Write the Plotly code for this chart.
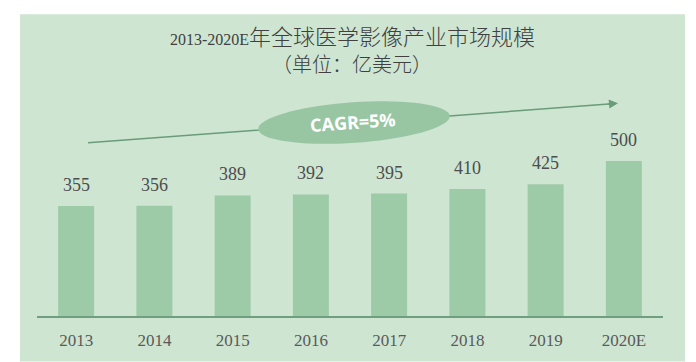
import math
import plotly.graph_objects as go

# ---- data ----
years = ["2013", "2014", "2015", "2016", "2017", "2018", "2019", "2020E"]
market_size = [355, 356, 389, 392, 395, 410, 425, 500]
title_line1 = '<span style="font-size:16px">2013-2020E</span>年全球医学影像产业市场规模'
title_line2 = "（单位：亿美元）"
cagr_label = "CAGR=5%"

W, H = 696, 362
ML, MR, MT, MB = 37, 33, 130, 44
PW, PH = W - ML - MR, H - MT - MB


def px(x, y):
    """pixel -> paper coordinates"""
    return (x - ML) / PW, (H - MB - y) / PH


PANEL = "#cee5d2"
BAR = "#9dcaa7"
ELLIPSE = "#99c6a2"
AXIS = "#6f9f7e"
ARROW = "#6a9c79"
SERIF = "Liberation Serif, Times New Roman, Noto Sans CJK SC, serif"

fig = go.Figure()
fig.add_trace(go.Bar(x=years, y=market_size, marker=dict(color=BAR, line=dict(width=0)),
                     hoverinfo="skip"))

shapes = []
# panel background
x0, y0 = px(20, 13)
x1, y1 = px(685, 364)
shapes.append(dict(type="rect", xref="paper", yref="paper", x0=x0, y0=y1, x1=x1, y1=y0,
                   fillcolor=PANEL, line=dict(width=0), layer="below"))
# trend line
lx0, ly0 = px(88, 143)
lx1, ly1 = px(612, 103.5)
shapes.append(dict(type="line", xref="paper", yref="paper", x0=lx0, y0=ly0, x1=lx1, y1=ly1,
                   line=dict(color=ARROW, width=1.5), layer="below"))
# tilted ellipse
cx, cy, rx, ry, ang = 354, 122.5, 96, 20.5, math.radians(-4)
pts = []
for i in range(73):
    t = 2 * math.pi * i / 72
    ex = rx * math.cos(t)
    ey = ry * math.sin(t)
    X = cx + ex * math.cos(ang) - ey * math.sin(ang)
    Y = cy + ex * math.sin(ang) + ey * math.cos(ang)
    pts.append(px(X, Y))
path = "M " + " L ".join(f"{a:.5f},{b:.5f}" for a, b in pts) + " Z"
shapes.append(dict(type="path", xref="paper", yref="paper", path=path,
                   fillcolor=ELLIPSE, line=dict(width=0), layer="below"))

annotations = []
# value labels (x = category index on the category axis)
for i, v in enumerate(market_size):
    annotations.append(dict(x=i, y=v, xref="x", yref="y", text=str(v), showarrow=False,
                            xanchor="center", yanchor="middle", yshift=21,
                            font=dict(family=SERIF, size=18, color="#4d4d4d")))
# titles
tx, ty = px(352, 37)
annotations.append(dict(x=tx, y=ty, xref="paper", yref="paper", text=title_line1, showarrow=False,
                        xanchor="center", yanchor="middle",
                        font=dict(family=SERIF, size=22, color="#404040", weight=300)))
tx, ty = px(352, 64)
annotations.append(dict(x=tx, y=ty, xref="paper", yref="paper", text=title_line2, showarrow=False,
                        xanchor="center", yanchor="middle",
                        font=dict(family=SERIF, size=20, color="#404040", weight=300)))
# CAGR label
cx_, cy_ = px(353, 122)
annotations.append(dict(x=cx_, y=cy_, xref="paper", yref="paper", text=f"<b>{cagr_label}</b>",
                        showarrow=False, textangle=-4, xanchor="center", yanchor="middle",
                        font=dict(family="Open Sans, Arial, sans-serif", size=18, color="white")))
# arrow head
hx, hy = px(618, 103)
annotations.append(dict(x=hx, y=hy, xref="paper", yref="paper", text="", showarrow=True,
                        ax=-12, ay=1, arrowhead=2, arrowsize=1.2, arrowwidth=1.5,
                        arrowcolor=ARROW))

fig.update_layout(
    width=W, height=H,
    margin=dict(l=ML, r=MR, t=MT, b=MB, pad=0),
    paper_bgcolor="white", plot_bgcolor="rgba(0,0,0,0)",
    bargap=0.54, showlegend=False,
    shapes=shapes, annotations=annotations,
    xaxis=dict(type="category", categoryorder="array", categoryarray=years,
               range=[-0.5, len(years) - 0.5], autorange=False,
               showgrid=False, zeroline=False, showline=True,
               linecolor=AXIS, linewidth=1.5,
               ticks="", tickfont=dict(family=SERIF, size=17, color="#5a5a5a"),
               ticklabelstandoff=8, fixedrange=True),
    yaxis=dict(range=[0, 600], autorange=False, showgrid=False, zeroline=False, showline=False,
               showticklabels=False, fixedrange=True),
)

fig.write_html("out.html", config={"displayModeBar": False},
               post_script="document.body.style.margin='0';document.body.style.overflow='hidden';")
